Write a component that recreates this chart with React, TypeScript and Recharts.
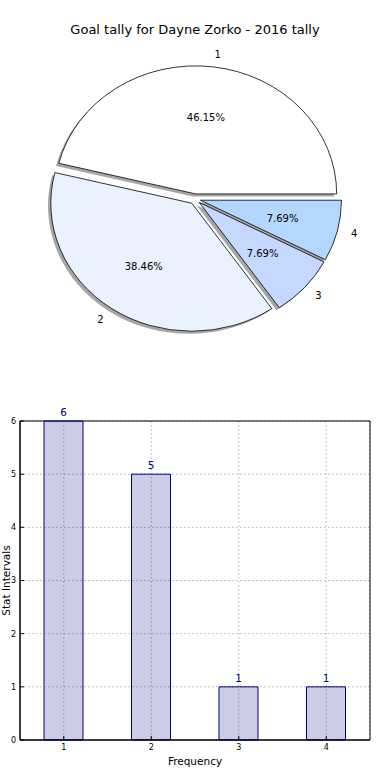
import { PieChart, Pie, BarChart, Bar, XAxis, YAxis, CartesianGrid, LabelList, ReferenceArea } from 'recharts';

const categories = ['1', '2', '3', '4'];
const goals = [6, 5, 1, 1];
const sliceColors = ['#ffffff', '#eaf1ff', '#c5d8ff', '#b3d7ff'];
const yTicks = [0, 1, 2, 3, 4, 5, 6];

const data = categories.map((name, i) => ({ name, value: goals[i] }));

const RAD = Math.PI / 180;
// the original pie is drawn on non-equal axes, so it's slightly squashed
const SQUASH = 0.908;
const EXPLODE = 0.04;
const FONT = '"DejaVu Sans", sans-serif';

// exploded, elliptical wedge built from the angles recharts computed
function wedge(p: any, dx = 0, dy = 0) {
  const rx = p.outerRadius;
  const ry = rx * SQUASH;
  const mid = p.midAngle * RAD;
  const cx = p.cx + EXPLODE * rx * Math.cos(mid) + dx;
  const cy = p.cy - EXPLODE * ry * Math.sin(mid) + dy;
  const at = (deg: number, f = 1) => [cx + f * rx * Math.cos(deg * RAD), cy - f * ry * Math.sin(deg * RAD)];
  const [x1, y1] = at(p.startAngle);
  const [x2, y2] = at(p.endAngle);
  const large = Math.abs(p.endAngle - p.startAngle) > 180 ? 1 : 0;
  const d = `M${cx},${cy} L${x1},${y1} A${rx},${ry} 0 ${large} 0 ${x2},${y2} Z`;
  return { d, at, cx };
}

const renderShadow = (p: any) => {
  const { d } = wedge(p, -2.8, 2.6);
  return <path key={`sh-${p.index}`} d={d} fill="#000" fillOpacity={0.35} stroke="none" />;
};

const renderWedge = (p: any) => {
  const { d, at } = wedge(p);
  const [px, py] = at(p.midAngle, 0.6);
  const [lx, ly] = at(p.midAngle, 1.1);
  const right = Math.cos(p.midAngle * RAD) > 0;
  return (
    <g key={`w-${p.index}`}>
      <path d={d} fill={sliceColors[p.index]} stroke="#000" strokeWidth={0.8} />
      <text x={px} y={py} textAnchor="middle" dominantBaseline="central" fontSize={10} fill="#000" fontFamily={FONT}>
        {(p.percent * 100).toFixed(2)}%
      </text>
      <text x={lx} y={ly} textAnchor={right ? 'start' : 'end'} dominantBaseline="central" fontSize={10} fill="#000" fontFamily={FONT}>
        {p.name}
      </text>
    </g>
  );
};

export default function App() {
  return (
    <div style={{ position: 'absolute', left: 0, top: 0, width: 390, height: 780, background: '#fff', fontFamily: FONT }}>
      <div style={{ position: 'absolute', top: 22, left: 0, width: 390, textAlign: 'center', fontSize: 13, lineHeight: '16px', color: '#000' }}>
        Goal tally for Dayne Zorko - 2016 tally
      </div>
      <div style={{ position: 'absolute', top: 0, left: 0 }}>
        <PieChart width={390} height={390} margin={{ top: 0, right: 0, bottom: 0, left: 0 }}>
          <Pie data={data} dataKey="value" nameKey="name" cx={195} cy={199} outerRadius={141}
            startAngle={0} endAngle={360} fill="none" stroke="none" labelLine={false}
            label={renderShadow} isAnimationActive={false} />
          <Pie data={data} dataKey="value" nameKey="name" cx={195} cy={199} outerRadius={141}
            startAngle={0} endAngle={360} fill="none" stroke="none" labelLine={false}
            label={renderWedge} isAnimationActive={false} />
        </PieChart>
      </div>
      <div style={{ position: 'absolute', top: 400, left: 0 }}>
        <BarChart width={390} height={380} data={data} margin={{ top: 21, right: 20, bottom: 0, left: 0 }}>
          <CartesianGrid stroke="#b0b0b0" strokeDasharray="1.5 2.5" />
          <XAxis dataKey="name" height={40} stroke="#000" tickSize={-4} tickMargin={8}
            tick={{ fill: '#000', fontSize: 8 }}
            label={{ value: 'Frequency', position: 'insideBottom', offset: 15, fill: '#000', fontSize: 10.5 }} />
          <YAxis type="number" domain={[0, 6]} ticks={yTicks} width={20} stroke="#000" tickSize={-4} tickMargin={8}
            tick={{ fill: '#000', fontSize: 8 }}
            label={{ value: 'Stat Intervals', angle: -90, position: 'insideLeft', offset: 6, fill: '#000', fontSize: 10.5, style: { textAnchor: 'middle' } }} />
          <Bar dataKey="value" barSize={39} fill="#000080" fillOpacity={0.2} stroke="#000080" strokeWidth={1} isAnimationActive={false}>
            <LabelList dataKey="value" position="top" offset={5} fill="#000080" fontSize={10.5} />
          </Bar>
          <ReferenceArea y1={0} y2={6} fill="none" stroke="#000" strokeWidth={1} ifOverflow="visible" />
        </BarChart>
      </div>
    </div>
  );
}
